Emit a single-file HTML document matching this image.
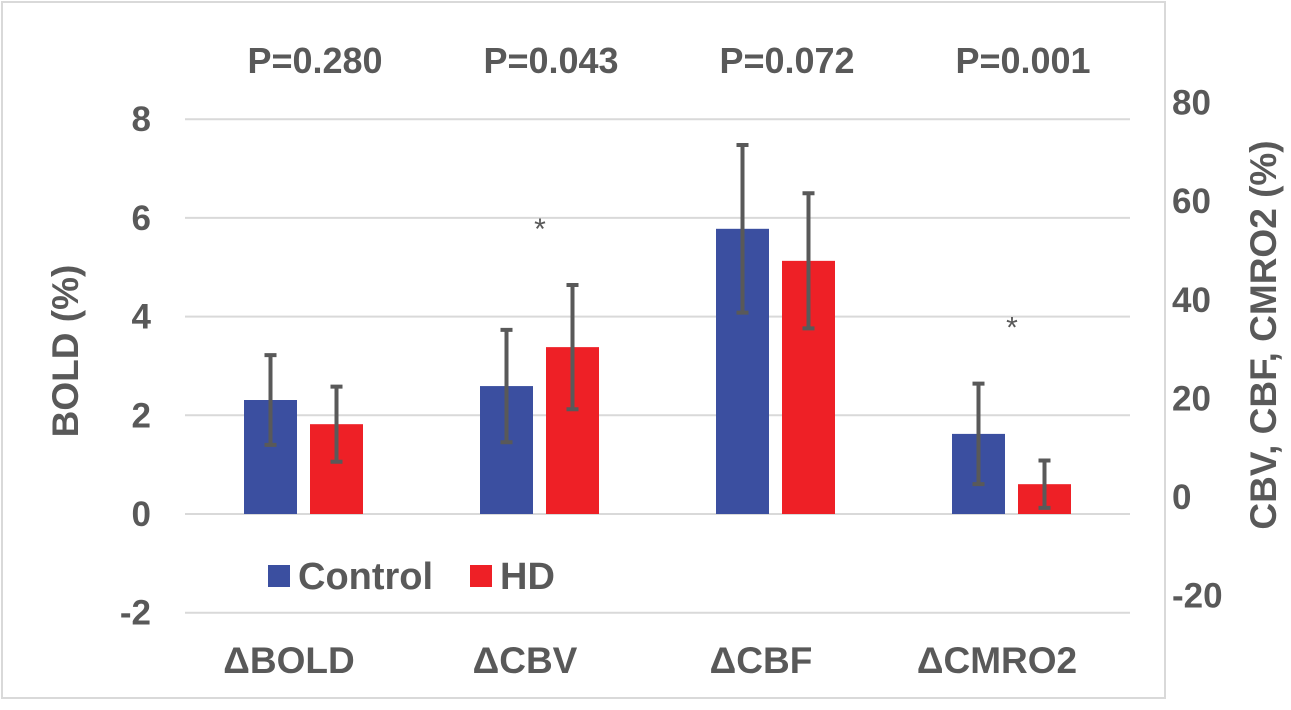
<!DOCTYPE html>
<html><head><meta charset="utf-8"><style>
html,body{margin:0;padding:0;background:#fff;}
svg{display:block;font-family:"Liberation Sans",Arial,sans-serif;font-weight:bold;}
</style></head><body>
<svg id="chart" width="1291" height="710" viewBox="0 0 1291 710">
<rect x="2" y="2" width="1163" height="696" fill="#fff" stroke="#d9d9d9" stroke-width="2"/>
<g id="grid"></g><g id="bars"></g><g id="errs"></g><g id="labels"></g>
</svg>
<script>
const categories = ["\u0394BOLD","\u0394CBV","\u0394CBF","\u0394CMRO2"];
const pValues = ["P=0.280","P=0.043","P=0.072","P=0.001"];
const significant = [false,true,false,true];
const useRightAxis = [false,true,true,true];
const controlValues = [2.31,22.5,54.4,12.8];
const hdValues = [1.82,30.4,47.9,2.6];
const controlErr = [0.91,11.4,17.0,10.2];
const hdErr = [0.76,12.6,13.7,4.8];
const leftTicks = [-2,0,2,4,6,8];
const rightTicks = [-20,0,20,40,60,80];

const NS="http://www.w3.org/2000/svg";
const yL = v => 514 - v*49.35;
const yR = v => 497 - v*4.93;
const yOf = (i,v) => useRightAxis[i] ? yR(v) : yL(v);
const cx = i => 303 + i*236;
function mk(tag, attrs, parent, text){
  const e=document.createElementNS(NS,tag);
  for(const k in attrs) e.setAttribute(k,attrs[k]);
  if(text!==undefined) e.textContent=text;
  document.getElementById(parent).appendChild(e);
  return e;
}
const gray="#595959";
leftTicks.forEach(t=>{
  const g=mk("line",{x1:185,x2:1130,y1:yL(t),y2:yL(t),stroke:"#d9d9d9","stroke-width":2},"grid");
  
  
  const l=mk("text",{x:151,y:yL(t)+12,"text-anchor":"end","font-size":35,fill:gray},"labels",String(t));
  
  
});
rightTicks.forEach(t=>{
  const l=mk("text",{x:1172,y:yR(t)+12,"text-anchor":"start","font-size":35,fill:gray},"labels",String(t));
  
  
});
const bw=53;
const baseY=yL(0);
categories.forEach((c,i)=>{
  const series=[[controlValues,controlErr,"#3B4FA0",-59],[hdValues,hdErr,"#EE2026",7]];
  series.forEach(([vals,errs,col,off],s)=>{
    const x=cx(i)+off, top=yOf(i,vals[i]);
    const b=mk("rect",{x:x,y:Math.min(top,baseY),width:bw,height:Math.abs(baseY-top),fill:col},"bars");
    
    
    const mx=x+bw/2, y1=yOf(i,vals[i]+errs[i]), y2=yOf(i,vals[i]-errs[i]);
    const e=mk("path",{d:`M${mx},${y1}V${y2}M${mx-6},${y1}H${mx+6}M${mx-6},${y2}H${mx+6}`,stroke:gray,"stroke-width":4,fill:"none"},"errs");
    
    
  });
  const cl=mk("text",{x:cx(i)-14,y:673,"text-anchor":"middle","font-size":37,fill:gray},"labels",c);
  
  
  const p=mk("text",{x:cx(i)+12,y:73,"text-anchor":"middle","font-size":36,fill:gray},"labels",pValues[i]);
  
  
  if(significant[i]){
    const top=Math.min(yOf(i,controlValues[i]+controlErr[i]),yOf(i,hdValues[i]+hdErr[i]));
    const a=mk("text",{x:cx(i)+1,y:top-46,"text-anchor":"middle","font-size":30,"font-weight":"normal",fill:gray},"labels","*");
    
    
  }
});
let t;
t=mk("text",{x:0,y:0,transform:"translate(78,351) rotate(-90)","text-anchor":"middle","font-size":37,fill:gray},"labels","BOLD (%)");


t=mk("text",{x:0,y:0,transform:"translate(1276,335) rotate(-90)","text-anchor":"middle","font-size":37,fill:gray},"labels","CBV, CBF, CMRO2 (%)");


t=mk("rect",{x:268,y:565,width:22,height:22,fill:"#3B4FA0"},"labels");


t=mk("text",{x:298,y:589,"font-size":38,fill:gray},"labels","Control");


t=mk("rect",{x:470,y:565,width:22,height:22,fill:"#EE2026"},"labels");


t=mk("text",{x:500,y:589,"font-size":38,fill:gray},"labels","HD");


</script>
</body></html>
